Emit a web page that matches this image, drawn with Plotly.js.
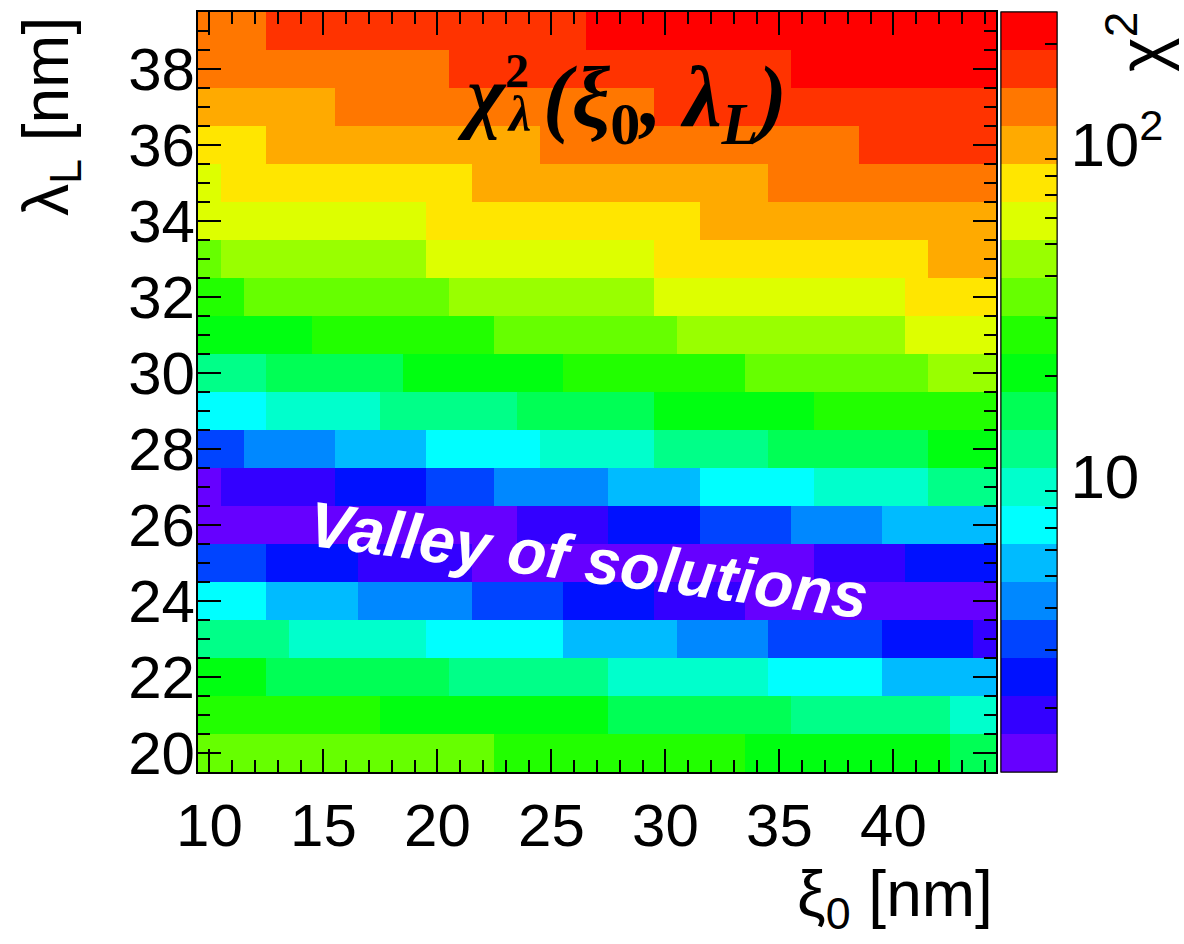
<!DOCTYPE html>
<html><head><meta charset="utf-8">
<script src="https://cdn.plot.ly/plotly-3.0.1.min.js"></script>
<style>body{margin:0;background:#fff}#chart{width:1184px;height:944px}</style>
</head><body><div id="chart"></div>
<script>
// xi_0 bin centres [nm]
const xi0 = [10,11,12,13,14,15,16,17,18,19,20,21,22,23,24,25,26,27,28,29,30,31,32,33,34,35,36,37,38,39,40,41,42,43,44];
// lambda_L bin centres [nm]
const lambdaL = [20,21,22,23,24,25,26,27,28,29,30,31,32,33,34,35,36,37,38,39];

// chi2 values, one row per lambda_L, columns follow xi0
const chi2_l20 = [35,35,35,35,35, 35,35,35,35,35, 35,35,35,27,27, 27,27,27,27,27, 27,27,27,27,20, 20,20,20,20,20, 20,20,20,15.7,15.7];
const chi2_l21 = [27,27,27,27,27, 27,27,27,20,20, 20,20,20,20,20, 20,20,20,15.7,15.7, 15.7,15.7,15.7,15.7,15.7, 15.7,12,12,12,12, 12,12,12,9.3,9.3];
const chi2_l22 = [20,20,20,15.7,15.7, 15.7,15.7,15.7,15.7,15.7, 15.7,12,12,12,12, 12,12,12,9.3,9.3, 9.3,9.3,9.3,9.3,9.3, 7.1,7.1,7.1,7.1,7.1, 5.5,5.5,5.5,5.5,5.5];
const chi2_l23 = [12,12,12,12,9.3, 9.3,9.3,9.3,9.3,9.3, 7.1,7.1,7.1,7.1,7.1, 7.1,5.5,5.5,5.5,5.5, 5.5,4.2,4.2,4.2,4.2, 3.2,3.2,3.2,3.2,3.2, 2.5,2.5,2.5,2.5,1.9];
const chi2_l24 = [7.1,7.1,7.1,5.5,5.5, 5.5,5.5,4.2,4.2,4.2, 4.2,4.2,3.2,3.2,3.2, 3.2,2.5,2.5,2.5,2.5, 1.9,1.9,1.9,1.9,1.47, 1.47,1.47,1.47,1.47,1.47, 1.47,1.47,1.47,1.47,1.47];
const chi2_l25 = [3.2,3.2,3.2,2.5,2.5, 2.5,2.5,1.9,1.9,1.9, 1.9,1.9,1.47,1.47,1.47, 1.47,1.47,1.47,1.47,1.47, 1.47,1.47,1.47,1.47,1.47, 1.47,1.47,1.9,1.9,1.9, 1.9,2.5,2.5,2.5,2.5];
const chi2_l26 = [1.47,1.47,1.47,1.47,1.47, 1.47,1.47,1.47,1.47,1.47, 1.47,1.47,1.47,1.47,1.9, 1.9,1.9,1.9,2.5,2.5, 2.5,2.5,3.2,3.2,3.2, 3.2,4.2,4.2,4.2,4.2, 5.5,5.5,5.5,5.5,5.5];
const chi2_l27 = [1.47,1.9,1.9,1.9,1.9, 1.9,2.5,2.5,2.5,2.5, 3.2,3.2,3.2,4.2,4.2, 4.2,4.2,4.2,5.5,5.5, 5.5,5.5,7.1,7.1,7.1, 7.1,7.1,9.3,9.3,9.3, 9.3,9.3,12,12,12];
const chi2_l28 = [3.2,3.2,4.2,4.2,4.2, 4.2,5.5,5.5,5.5,5.5, 7.1,7.1,7.1,7.1,7.1, 9.3,9.3,9.3,9.3,9.3, 12,12,12,12,12, 15.7,15.7,15.7,15.7,15.7, 15.7,15.7,20,20,20];
const chi2_l29 = [7.1,7.1,7.1,9.3,9.3, 9.3,9.3,9.3,12,12, 12,12,12,12,15.7, 15.7,15.7,15.7,15.7,15.7, 20,20,20,20,20, 20,20,27,27,27, 27,27,27,27,27];
const chi2_l30 = [12,12,12,15.7,15.7, 15.7,15.7,15.7,15.7,20, 20,20,20,20,20, 20,27,27,27,27, 27,27,27,27,35, 35,35,35,35,35, 35,35,45,45,45];
const chi2_l31 = [20,20,20,20,20, 27,27,27,27,27, 27,27,27,35,35, 35,35,35,35,35, 35,45,45,45,45, 45,45,45,45,45, 45,59,59,59,59];
const chi2_l32 = [27,27,35,35,35, 35,35,35,35,35, 35,45,45,45,45, 45,45,45,45,45, 59,59,59,59,59, 59,59,59,59,59, 59,76,76,76,76];
const chi2_l33 = [35,45,45,45,45, 45,45,45,45,45, 59,59,59,59,59, 59,59,59,59,59, 76,76,76,76,76, 76,76,76,76,76, 76,76,99,99,99];
const chi2_l34 = [59,59,59,59,59, 59,59,59,59,59, 76,76,76,76,76, 76,76,76,76,76, 76,76,99,99,99, 99,99,99,99,99, 99,99,99,99,99];
const chi2_l35 = [59,76,76,76,76, 76,76,76,76,76, 76,76,99,99,99, 99,99,99,99,99, 99,99,99,99,99, 129,129,129,129,129, 129,129,129,129,129];
const chi2_l36 = [76,76,76,99,99, 99,99,99,99,99, 99,99,99,99,99, 129,129,129,129,129, 129,129,129,129,129, 129,129,129,129,168, 168,168,168,168,168];
const chi2_l37 = [99,99,99,99,99, 99,129,129,129,129, 129,129,129,129,129, 129,129,129,129,129, 168,168,168,168,168, 168,168,168,168,168, 168,168,168,168,168];
const chi2_l38 = [129,129,129,129,129, 129,129,129,129,129, 129,168,168,168,168, 168,168,168,168,168, 168,168,168,168,168, 168,219,219,219,219, 219,219,219,219,219];
const chi2_l39 = [129,129,129,168,168, 168,168,168,168,168, 168,168,168,168,168, 168,168,219,219,219, 219,219,219,219,219, 219,219,219,219,219, 219,219,219,219,219];

// palette (20 contour levels, bottom -> top) and colour-axis range
const paletteColors = ['#6600ff','#3300ff','#0011ff','#0044ff','#0088ff','#00bbff','#00ffff','#00ffcc','#00ff88','#00ff55',
                       '#00ff11','#22ff00','#66ff00','#99ff00','#ddff00','#ffe600','#ffaa00','#ff7700','#ff3300','#ff0000'];
const chi2Min = 1.286, chi2Max = 249.5;
const majorTicks = [10, 100];
const majorTickText = ['10', '10<sup>2</sup>'];
const minorTicks = [2,3,4,5,6,7,8,9,20,30,40,50,60,70,80,90,200];

const rows = [chi2_l20,chi2_l21,chi2_l22,chi2_l23,chi2_l24,chi2_l25,chi2_l26,chi2_l27,chi2_l28,chi2_l29,
              chi2_l30,chi2_l31,chi2_l32,chi2_l33,chi2_l34,chi2_l35,chi2_l36,chi2_l37,chi2_l38,chi2_l39];
const zLog = rows.map(r => r.map(v => Math.log10(v)));
const n = paletteColors.length;
const colorscale = [];
paletteColors.forEach((c, i) => { colorscale.push([i / n, c]); colorscale.push([(i + 1) / n, c]); });

const SANS = 'Liberation Sans, Arial, Helvetica, sans-serif';
const SERIF = 'Liberation Serif, Times New Roman, serif';

const cbBase = {
  thicknessmode: 'pixels', thickness: 56, lenmode: 'fraction', len: 1,
  x: 1.006, xanchor: 'left', y: 0.5, yanchor: 'middle', xpad: 0, ypad: 0,
  outlinewidth: 1, outlinecolor: '#000', ticks: 'inside', tickcolor: '#000', tickwidth: 2,
  tickfont: {family: SANS, size: 62, color: '#000'}, title: {text: ''}
};

const base = {
  type: 'heatmap', x: xi0, y: lambdaL, z: zLog,
  zmin: Math.log10(chi2Min), zmax: Math.log10(chi2Max), zauto: false,
  colorscale: colorscale, xgap: 0, ygap: 0, hoverinfo: 'skip'
};

const traceMain = Object.assign({}, base, {
  colorbar: Object.assign({}, cbBase, {tickmode: 'array', tickvals: majorTicks.map(Math.log10), ticktext: majorTickText, ticklen: 22})
});
const traceMinor = Object.assign({}, base, {
  colorbar: Object.assign({}, cbBase, {tickmode: 'array', tickvals: minorTicks.map(Math.log10), ticktext: minorTicks.map(() => ''), ticklen: 12, showticklabels: false})
});

const L = 198, T = 12, W = 798, H = 760;
const px = x => (x - L) / W;
const py = y => (T + H - y) / H;

const axisCommon = {
  showgrid: false, zeroline: false, showline: true, linecolor: '#000', linewidth: 2, mirror: 'allticks',
  ticks: 'inside', ticklen: 23, tickwidth: 2, tickcolor: '#000',
  tickfont: {family: SANS, size: 60, color: '#000'}, automargin: false
};

const layout = {
  width: 1184, height: 944,
  margin: {l: L, r: 1184 - L - W, t: T, b: 944 - T - H, pad: 0, autoexpand: false},
  paper_bgcolor: '#fff', plot_bgcolor: '#fff', showlegend: false,
  xaxis: Object.assign({}, axisCommon, {range: [9.5, 44.5], tick0: 10, dtick: 5, ticklabelstandoff: 0,
    minor: {dtick: 1, tick0: 10, ticks: 'inside', ticklen: 12, tickwidth: 2, tickcolor: '#000'}}),
  yaxis: Object.assign({}, axisCommon, {range: [19.5, 39.5], tick0: 20, dtick: 2, ticklabelstandoff: -11,
    minor: {dtick: 0.5, tick0: 20, ticks: 'inside', ticklen: 12, tickwidth: 2, tickcolor: '#000'}}),
  annotations: [
    {xref: 'paper', yref: 'paper', x: px(588), y: py(560), xanchor: 'center', yanchor: 'middle', showarrow: false,
     text: '<b><i>Valley of solutions</i></b>', textangle: 7.5, font: {family: SANS, size: 64, color: '#fff'}},
    {xref: 'paper', yref: 'paper', x: px(482), y: py(95), xanchor: 'center', yanchor: 'middle', showarrow: false,
     text: '<b><i>χ</i></b>', font: {family: SERIF, size: 82, color: '#000'}},
    {xref: 'paper', yref: 'paper', x: px(517), y: py(70), xanchor: 'center', yanchor: 'middle', showarrow: false,
     text: '<b>2</b>', font: {family: SERIF, size: 48, color: '#000'}},
    {xref: 'paper', yref: 'paper', x: px(519), y: py(114), xanchor: 'center', yanchor: 'middle', showarrow: false,
     text: '<b><i>λ</i></b>', font: {family: SERIF, size: 50, color: '#000'}},
    {xref: 'paper', yref: 'paper', x: px(541), y: py(103), xanchor: 'left', yanchor: 'middle', showarrow: false,
     text: '<b><i>(ξ</i></b><sub><b>0</b></sub><b><i>, λ</i></b><sub><b><i>L</i></b></sub><b><i>)</i></b>', font: {family: SERIF, size: 86, color: '#000'}},
    {xref: 'paper', yref: 'paper', x: px(995), y: py(898), xanchor: 'right', yanchor: 'middle', showarrow: false,
     text: 'ξ<sub>0</sub> [nm]', font: {family: SANS, size: 64, color: '#000'}},
    {xref: 'paper', yref: 'paper', x: px(50), y: py(117), xanchor: 'center', yanchor: 'middle', showarrow: false,
     text: 'λ<sub>L</sub> [nm]', textangle: -90, font: {family: SANS, size: 64, color: '#000'}},
    {xref: 'paper', yref: 'paper', x: px(1137), y: py(42), xanchor: 'center', yanchor: 'middle', showarrow: false,
     text: 'χ<sup>2</sup>', textangle: -90, font: {family: SANS, size: 66, color: '#000'}}
  ]
};

Plotly.newPlot('chart', [traceMain, traceMinor], layout, {displayModeBar: false, staticPlot: true});
</script>
</body></html>
